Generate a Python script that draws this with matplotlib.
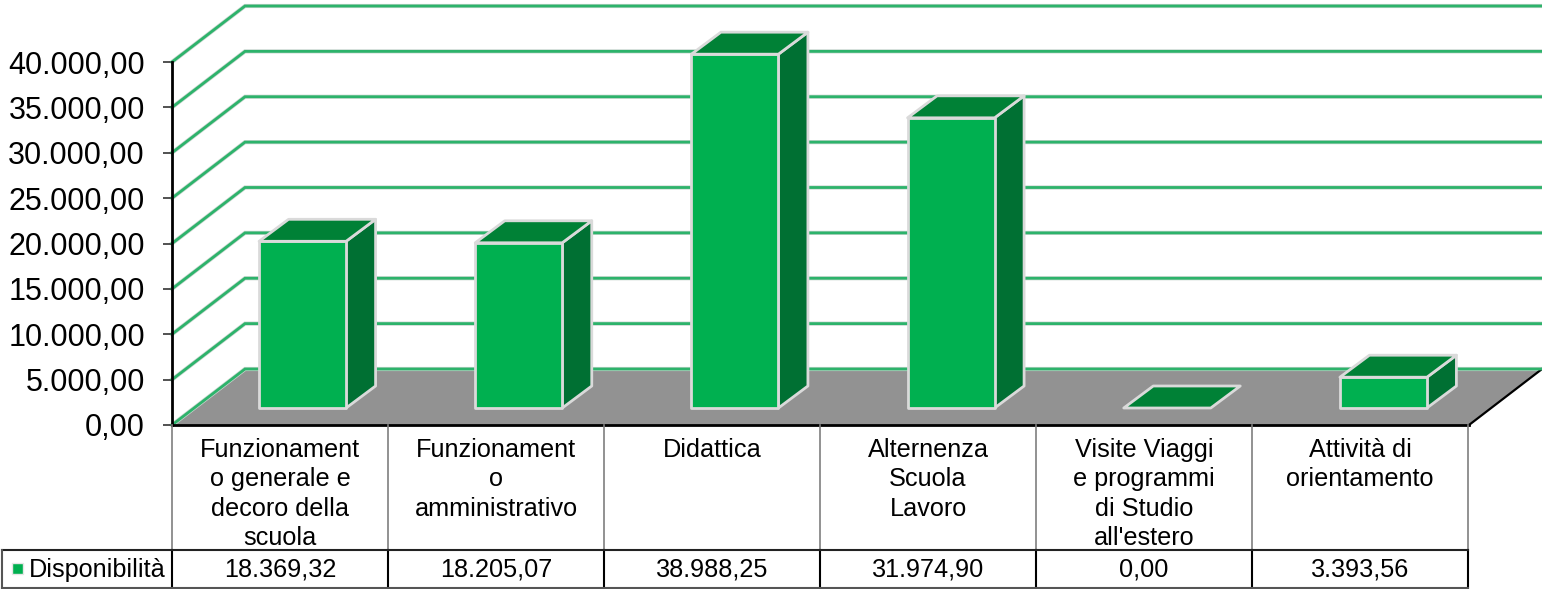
import matplotlib
matplotlib.use('Agg')
import matplotlib.pyplot as plt
from matplotlib.patches import Polygon, Rectangle

plt.rcParams['font.family'] = ['Liberation Sans', 'DejaVu Sans']

categories = ["Funzionament\no generale e\ndecoro della\nscuola",
              "Funzionament\no\namministrativo",
              "Didattica",
              "Alternenza\nScuola\nLavoro",
              "Visite Viaggi\ne programmi\ndi Studio\nall'estero",
              "Attività di\norientamento"]
values = [18369.32, 18205.07, 38988.25, 31974.90, 0.00, 3393.56]
series_name = "Disponibilità"
y_ticks = [0, 5000, 10000, 15000, 20000, 25000, 30000, 35000, 40000]

W, H = 1542, 589
X0, X1, Y0, Y1 = 172, 1469, 425, 62   # plot box in pixels
px_x = 6 / (X1 - X0)
px_y = 40000 / (Y0 - Y1)

# 3d offsets, in data units
wall_dx, wall_dy = 73 * px_x, 56 * px_y
bar_dx, bar_dy = 29.5 * px_x, 22 * px_y
base_dx, base_dy = 22.5 * px_x, 17 * px_y
bar_w = 87 * px_x

GREEN = '#00B050'
TOP = '#008136'
SIDE = '#007033'
EDGE = '#DADADA'
GRID = '#2DB36B'


def eu(v):
    s = f"{v:,.2f}"
    return s.replace(',', '#').replace('.', ',').replace('#', '.')


fig = plt.figure(figsize=(W / 100, H / 100), dpi=100)
ax = fig.add_axes([X0 / W, 1 - Y0 / H, (X1 - X0) / W, (Y0 - Y1) / H])
ax.set_xlim(0, 6)
ax.set_ylim(0, 40000)
ax.patch.set_alpha(0)

# floor
ax.add_patch(Polygon([(0, 0), (wall_dx, wall_dy), (6 + wall_dx, wall_dy), (6, 0)],
                     closed=True, fc='#929292', ec='none', clip_on=False, zorder=1))
ax.plot([6, 6 + wall_dx], [0, wall_dy], color='black', lw=1.6, clip_on=False, zorder=2)

# walls gridlines
for lv in y_ticks:
    xs = [0, wall_dx, 7]
    ys = [lv, lv + wall_dy, lv + wall_dy]
    ax.plot(xs, ys, color='#C9D6CF', lw=3, clip_on=False, zorder=1.5, solid_joinstyle='miter')
    ax.plot(xs, ys, color=GRID, lw=2, clip_on=False, zorder=2, solid_joinstyle='miter')

# bars
for i, v in enumerate(values):
    x = i + 0.5 + base_dx - bar_w / 2
    y = base_dy
    kw = dict(closed=True, ec=EDGE, lw=2, clip_on=False, zorder=3 + i * 0.01, joinstyle='round')
    if v > 0:
        ax.add_patch(Polygon([(x + bar_w, y), (x + bar_w + bar_dx, y + bar_dy),
                              (x + bar_w + bar_dx, y + v + bar_dy), (x + bar_w, y + v)], fc=SIDE, **kw))
        ax.add_patch(Polygon([(x, y), (x + bar_w, y), (x + bar_w, y + v), (x, y + v)], fc=GREEN, **kw))
    ax.add_patch(Polygon([(x, y + v), (x + bar_w, y + v), (x + bar_w + bar_dx, y + v + bar_dy),
                          (x + bar_dx, y + v + bar_dy)], fc=TOP, **kw))

ax.set_xticks([])
ax.set_yticks(y_ticks)
ax.set_yticklabels([eu(t) for t in y_ticks], fontsize=22)
ax.tick_params(axis='y', length=6.5, width=1.2, pad=13, color='#333333')
for s in ['top', 'right']:
    ax.spines[s].set_visible(False)
for s in ['left', 'bottom']:
    ax.spines[s].set_linewidth(2)
    ax.spines[s].set_zorder(6)

# data table, drawn on a pixel overlay
tb = fig.add_axes([0, 0, 1, 1])
tb.set_xlim(0, W)
tb.set_ylim(H, 0)
tb.axis('off')
col_w = 216
ROW1, ROW2 = 550, 588
for i in range(7):
    x = X0 + i * col_w
    tb.plot([x, x], [Y0, ROW1], color='#7F7F7F', lw=1.2)
    tb.plot([x, x], [ROW1, ROW2], color='black', lw=1.5)
tb.plot([2, X0 + 6 * col_w], [ROW1, ROW1], color='#222222', lw=1.5)
tb.plot([2, X0 + 6 * col_w], [ROW2, ROW2], color='#555555', lw=1.5)
tb.plot([2, 2], [ROW1, ROW2], color='#555555', lw=1.5)

for i, c in enumerate(categories):
    xc = X0 + (i + 0.5) * col_w
    for j, line in enumerate(c.split('\n')):
        tb.text(xc, 457.3 + j * 29.1, line, ha='center', va='baseline', fontsize=18.2, color='black')
    tb.text(xc, 576.6, eu(values[i]), ha='center', va='baseline', fontsize=18.2, color='black')

tb.add_patch(Rectangle((11.5, 562.5), 11, 11, fc=GREEN, ec='#E6E6E6', lw=1))
tb.text(29, 576.6, series_name, ha='left', va='baseline', fontsize=18.2, color='black')

fig.savefig('out.png', dpi=100)
